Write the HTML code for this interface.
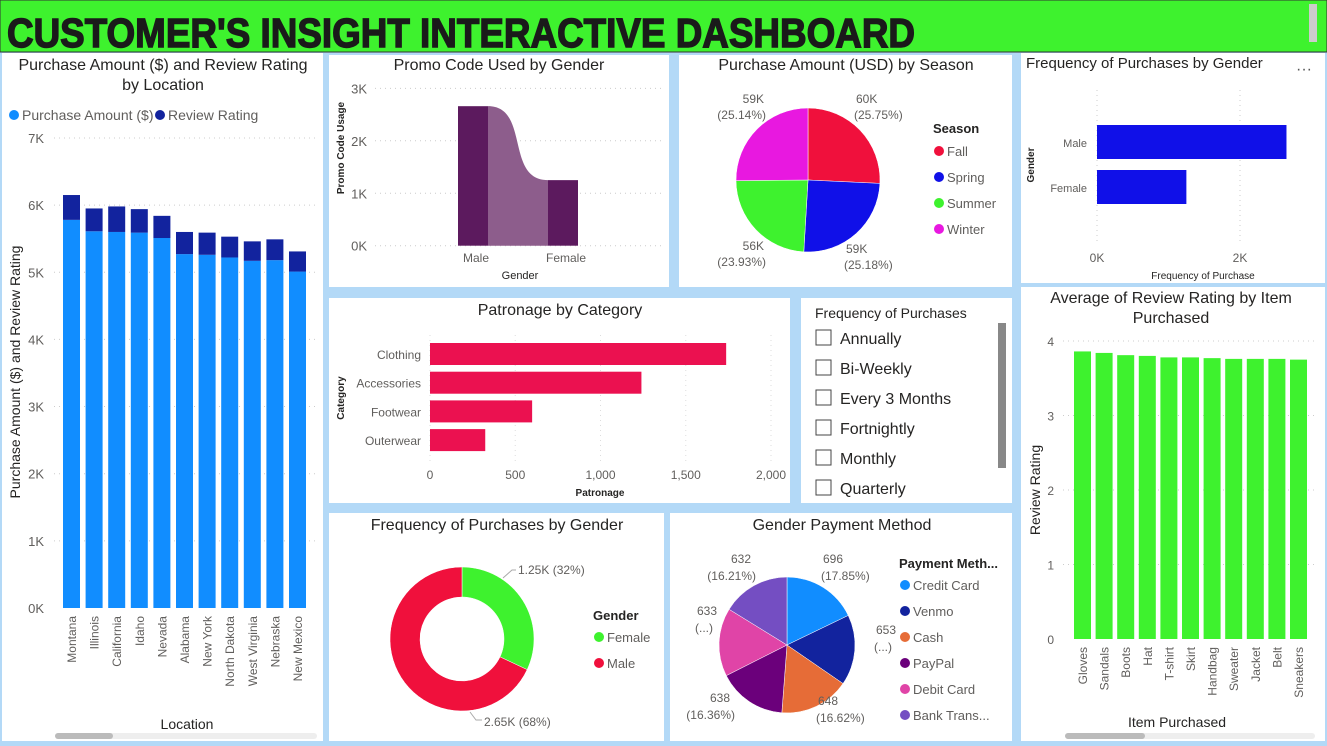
<!DOCTYPE html>
<html><head><meta charset="utf-8"><style>
body{margin:0;width:1327px;height:741px;overflow:hidden;background:#b3d9f7;font-family:"Liberation Sans",sans-serif}
svg text{font-family:"Liberation Sans",sans-serif}
</style></head><body>
<svg id="s" width="1327" height="741" xmlns="http://www.w3.org/2000/svg">
<rect x="0" y="0" width="1327" height="741" fill="#b3d9f7"/>
<g>
<rect x="0" y="0" width="1327" height="52" fill="#3ef22e" stroke="#333" stroke-width="1"/>
<text x="7" y="47" font-size="41" font-weight="bold" fill="#1a1a1a" stroke="#1a1a1a" stroke-width="1.4" textLength="908" lengthAdjust="spacingAndGlyphs">CUSTOMER'S INSIGHT INTERACTIVE DASHBOARD</text>
<rect x="1309" y="4" width="8" height="38" fill="#ccc"/>
</g>
<g fill="#fff">
<rect x="2" y="53" width="321" height="688"/>
<rect x="329" y="55" width="340" height="232"/>
<rect x="679" y="55" width="333" height="232"/>
<rect x="1021" y="53" width="304" height="230"/>
<rect x="329" y="298" width="461" height="205"/>
<rect x="801" y="298" width="211" height="205"/>
<rect x="329" y="513" width="335" height="228"/>
<rect x="670" y="513" width="342" height="228"/>
<rect x="1021" y="287" width="304" height="454"/>
</g>
<g id="g"></g>
</svg>
<script>
// Location chart data
const locCats=["Montana","Illinois","California","Idaho","Nevada","Alabama","New York","North Dakota","West Virginia","Nebraska","New Mexico"];
const locPurchase=[5.78,5.61,5.6,5.59,5.51,5.27,5.26,5.22,5.17,5.18,5.01];
const locReview=[0.37,0.34,0.38,0.35,0.33,0.33,0.33,0.31,0.29,0.31,0.30];
const locTicks=["0K","1K","2K","3K","4K","5K","6K","7K"];
// Promo
const promoCats=["Male","Female"];
const promoVals=[2.66,1.25];
const promoTicks=["0K","1K","2K","3K"];
// Season
const seasonCats=["Fall","Spring","Summer","Winter"];
const seasonVals=[25.75,25.18,23.93,25.14];
const seasonLabels=["60K","59K","56K","59K"];
// Freq by gender bar
const fgCats=["Male","Female"];
const fgVals=[2.65,1.25];
// Patronage
const patCats=["Clothing","Accessories","Footwear","Outerwear"];
const patVals=[1737,1240,599,324];
const patTicks=[0,500,1000,1500,2000];
// Slicer
const freqOpts=["Annually","Bi-Weekly","Every 3 Months","Fortnightly","Monthly","Quarterly"];
// Donut
const donutCats=["Female","Male"];
const donutVals=[32,68];
const donutLabels=["1.25K (32%)","2.65K (68%)"];
// Payment
const payCats=["Credit Card","Venmo","Cash","PayPal","Debit Card","Bank Trans..."];
const payVals=[17.85,16.75,16.62,16.36,16.23,16.21];
const payLabels=[["696","(17.85%)"],["653","(...)"],["648","(16.62%)"],["638","(16.36%)"],["633","(...)"],["632","(16.21%)"]];
// Item review
const itemCats=["Gloves","Sandals","Boots","Hat","T-shirt","Skirt","Handbag","Sweater","Jacket","Belt","Sneakers"];
const itemVals=[3.86,3.84,3.81,3.80,3.78,3.78,3.77,3.76,3.76,3.76,3.75];
const itemTicks=[0,1,2,3,4];

const G=document.getElementById('g');const NS="http://www.w3.org/2000/svg";
function el(t,a,txt){const e=document.createElementNS(NS,t);for(const k in a)e.setAttribute(k,a[k]);if(txt!==undefined)e.textContent=txt;G.appendChild(e);return e;}
function T(x,y,s,o){o=o||{};return el('text',{x:x,y:y,'font-size':o.fs||14,fill:o.c||'#252423','text-anchor':o.a||'start','font-weight':o.b?'bold':'normal',transform:o.r?`rotate(${o.r} ${x} ${y})`:''},s);}
function grid(x1,x2,y){el('line',{x1:x1,x2:x2,y1:y,y2:y,stroke:'#ccc','stroke-dasharray':'1 4'});}
function arc(cx,cy,r,a0,a1,ri){const p=(a,rr)=>[cx+rr*Math.sin(a),cy-rr*Math.cos(a)];const l=a1-a0>Math.PI?1:0;const [x0,y0]=p(a0,r),[x1,y1]=p(a1,r);
 if(!ri)return `M${cx},${cy}L${x0},${y0}A${r},${r} 0 ${l} 1 ${x1},${y1}Z`;const [x2,y2]=p(a1,ri),[x3,y3]=p(a0,ri);return `M${x0},${y0}A${r},${r} 0 ${l} 1 ${x1},${y1}L${x2},${y2}A${ri},${ri} 0 ${l} 0 ${x3},${y3}Z`;}
let e;
// ===== Location chart
T(163,70,"Purchase Amount ($) and Review Rating",{fs:16,a:'middle'});
T(163,90,"by Location",{fs:16,a:'middle'});
el('circle',{cx:14,cy:115,r:5,fill:'#118dff'});T(22,120,"Purchase Amount ($)",{c:'#605e5c'});
el('circle',{cx:160,cy:115,r:5,fill:'#12239e'});T(168,120,"Review Rating",{c:'#605e5c'});
const ly=v=>608-v*67.15;
locTicks.forEach((t,i)=>{T(44,ly(i)+5,t,{a:'end',c:'#605e5c',fs:13});if(i>0)grid(54,318,ly(i));});
T(20,372,"Purchase Amount ($) and Review Rating",{fs:14,a:'middle',r:-90});
locCats.forEach((c,i)=>{const x=63+i*22.6;
 e=el('rect',{x:x,y:ly(locPurchase[i]),width:17,height:608-ly(locPurchase[i]),fill:'#118dff'});
 
 e=el('rect',{x:x,y:ly(locPurchase[i]+locReview[i]),width:17,height:locReview[i]*67.15,fill:'#12239e'});
 
 T(x+13,616,c,{a:'end',r:-90,fs:12,c:'#605e5c'});});
T(187,729,"Location",{fs:14,a:'middle'});
el('rect',{x:55,y:733,width:262,height:6,rx:3,fill:'#eee'});el('rect',{x:55,y:733,width:58,height:6,rx:3,fill:'#bbb'});
// ===== Promo
T(499,70,"Promo Code Used by Gender",{fs:16,a:'middle'});
const py=v=>245.7-v*52.45;
promoTicks.forEach((t,i)=>{T(367,py(i)+5,t,{a:'end',c:'#605e5c',fs:13});grid(375,663,py(i));});
T(344,148,"Promo Code Usage",{fs:10,a:'middle',r:-90,b:1});
const m=py(promoVals[0]),f=py(promoVals[1]);
e=el('path',{d:`M488,${m}C530,${m} 505,${f} 548,${f}L548,245.7L488,245.7Z`,fill:'#8d5d8c'});

promoCats.forEach((c,i)=>{const x=i?548:458;e=el('rect',{x:x,y:py(promoVals[i]),width:30,height:245.7-py(promoVals[i]),fill:'#5c1a5e'});
 
 T(i?566:476,262,c,{a:'middle',c:'#605e5c',fs:12});});
T(520,279,"Gender",{fs:11,a:'middle'});
// ===== Season pie
T(846,70,"Purchase Amount (USD) by Season",{fs:16,a:'middle'});
const sCol=['#f0103c','#1010e8','#3ef22e','#e818e0'];
let tot=seasonVals.reduce((a,b)=>a+b,0),a=0;
const sLab=[[862,103,'start'],[852,253,'start'],[758,250,'end'],[758,103,'end']];
seasonVals.forEach((v,i)=>{const a1=a+v/tot*2*Math.PI;e=el('path',{d:arc(808,180,72,a,a1),fill:sCol[i],stroke:'#fff','stroke-width':0.5});
 
 const [lx,ly2,an]=sLab[i];T(lx+(an=='start'?-6:6),ly2,seasonLabels[i],{fs:12,c:'#605e5c',a:an=='start'?'start':'end'});
 T(lx+(an=='start'?-8:8),ly2+16,`(${v.toFixed(2)}%)`,{fs:12,c:'#605e5c',a:an});a=a1;});
T(933,133,"Season",{fs:13,b:1});
seasonCats.forEach((c,i)=>{el('circle',{cx:939,cy:151+i*26,r:5,fill:sCol[i]});T(947,156+i*26,c,{fs:13,c:'#605e5c'});});
// ===== Freq by gender bars
T(1026,68,"Frequency of Purchases by Gender",{fs:15});
el('rect',{x:1294,y:55,width:31,height:22,fill:'#fff'});T(1296,74,"···",{fs:16,c:'#555'});
const fx=v=>1097+v*71.5;
[0,2].forEach(t=>{el('line',{x1:fx(t),x2:fx(t),y1:90,y2:245,stroke:'#ccc','stroke-dasharray':'1 4'});T(fx(t),262,t+"K",{fs:12,a:'middle',c:'#605e5c'});});
fgCats.forEach((c,i)=>{e=el('rect',{x:1097,y:125+i*45,width:fx(fgVals[i])-1097,height:34,fill:'#1010e8'});
 
 T(1087,147+i*45,c,{a:'end',fs:11,c:'#605e5c'});});
T(1034,165,"Gender",{fs:10,a:'middle',r:-90,b:1});
T(1203,279,"Frequency of Purchase",{fs:10,a:'middle'});
// ===== Patronage
T(560,315,"Patronage by Category",{fs:16,a:'middle'});
const cx=v=>430+v*0.1705;
patTicks.forEach(t=>{T(cx(t),479,t.toLocaleString('en-US'),{fs:12,a:'middle',c:'#605e5c'});el('line',{x1:cx(t),x2:cx(t),y1:335,y2:462,stroke:'#ddd','stroke-dasharray':'1 4'});});
patCats.forEach((c,i)=>{e=el('rect',{x:430,y:343+i*28.7,width:cx(patVals[i])-430,height:22,fill:'#eb1150'});
 
 T(421,359+i*28.7,c,{a:'end',fs:12,c:'#605e5c'});});
T(344,398,"Category",{fs:10,a:'middle',r:-90,b:1});
T(600,496,"Patronage",{fs:10,a:'middle',b:1});
// ===== Slicer
T(815,318,"Frequency of Purchases",{fs:14});
freqOpts.forEach((o,i)=>{const y=330+i*30;e=el('rect',{x:816,y:y,width:15,height:15,fill:'#fff',stroke:'#444'});
 T(840,y+14,o,{fs:16,c:'#252423'});});
el('rect',{x:998,y:323,width:8,height:145,fill:'#888'});
// ===== Donut
T(497,530,"Frequency of Purchases by Gender",{fs:16,a:'middle'});
const dCol=['#3ef22e','#f0103c'];a=0;
donutVals.forEach((v,i)=>{const a1=a+v/100*2*Math.PI;e=el('path',{d:arc(462,639,72,a,a1,42),fill:dCol[i],stroke:'#fff','stroke-width':0.5});
 a=a1;});
T(518,574,donutLabels[0],{fs:12,c:'#605e5c'});T(484,726,donutLabels[1],{fs:12,c:'#605e5c'});
el('polyline',{points:'503,578 512,570 516,570',fill:'none',stroke:'#aaa'});el('polyline',{points:'470,712 476,720 482,720',fill:'none',stroke:'#aaa'});
T(593,620,"Gender",{fs:13,b:1});
donutCats.forEach((c,i)=>{el('circle',{cx:599,cy:637+i*26,r:5,fill:dCol[i]});T(607,642+i*26,c,{fs:13,c:'#605e5c'});});
// ===== Payment
T(842,530,"Gender Payment Method",{fs:16,a:'middle'});
const pCol=['#118dff','#12239e','#e66c37','#6b007b','#e044a7','#744ec2'];
tot=payVals.reduce((a,b)=>a+b,0);a=0;
const pLab=[[823,563,'start'],[876,634,'start'],[818,705,'start'],[730,702,'end'],[697,615,'start'],[751,563,'end']];
payVals.forEach((v,i)=>{const a1=a+v/tot*2*Math.PI;e=el('path',{d:arc(787,645,68,a,a1),fill:pCol[i],stroke:'#fff','stroke-width':0.5});
 
 const [lx,ly2,an]=pLab[i];T(lx,ly2,payLabels[i][0],{fs:12,c:'#605e5c',a:an=='end'?'end':'start'});
 T(an=='end'?lx+5:lx-2,ly2+17,payLabels[i][1],{fs:12,c:'#605e5c',a:an});a=a1;});
T(899,568,"Payment Meth...",{fs:13,b:1});
payCats.forEach((c,i)=>{el('circle',{cx:905,cy:585+i*26,r:5,fill:pCol[i]});T(913,590+i*26,c,{fs:13,c:'#605e5c'});});
// ===== Item review
T(1171,303,"Average of Review Rating by Item",{fs:16,a:'middle'});
T(1171,323,"Purchased",{fs:16,a:'middle'});
const iy=v=>639-v*74.5;
itemTicks.forEach(t=>{T(1054,iy(t)+5,t,{a:'end',fs:12,c:'#605e5c'});if(t)grid(1063,1315,iy(t));});
T(1040,490,"Review Rating",{fs:14,a:'middle',r:-90});
itemCats.forEach((c,i)=>{const x=1074+i*21.6;e=el('rect',{x:x,y:iy(itemVals[i]),width:17,height:639-iy(itemVals[i]),fill:'#3ef22e'});
 
 T(x+13,647,c,{a:'end',r:-90,fs:12,c:'#605e5c'});});
T(1177,727,"Item Purchased",{fs:14,a:'middle'});
el('rect',{x:1065,y:733,width:250,height:6,rx:3,fill:'#eee'});el('rect',{x:1065,y:733,width:80,height:6,rx:3,fill:'#bbb'});
</script>
</body></html>
